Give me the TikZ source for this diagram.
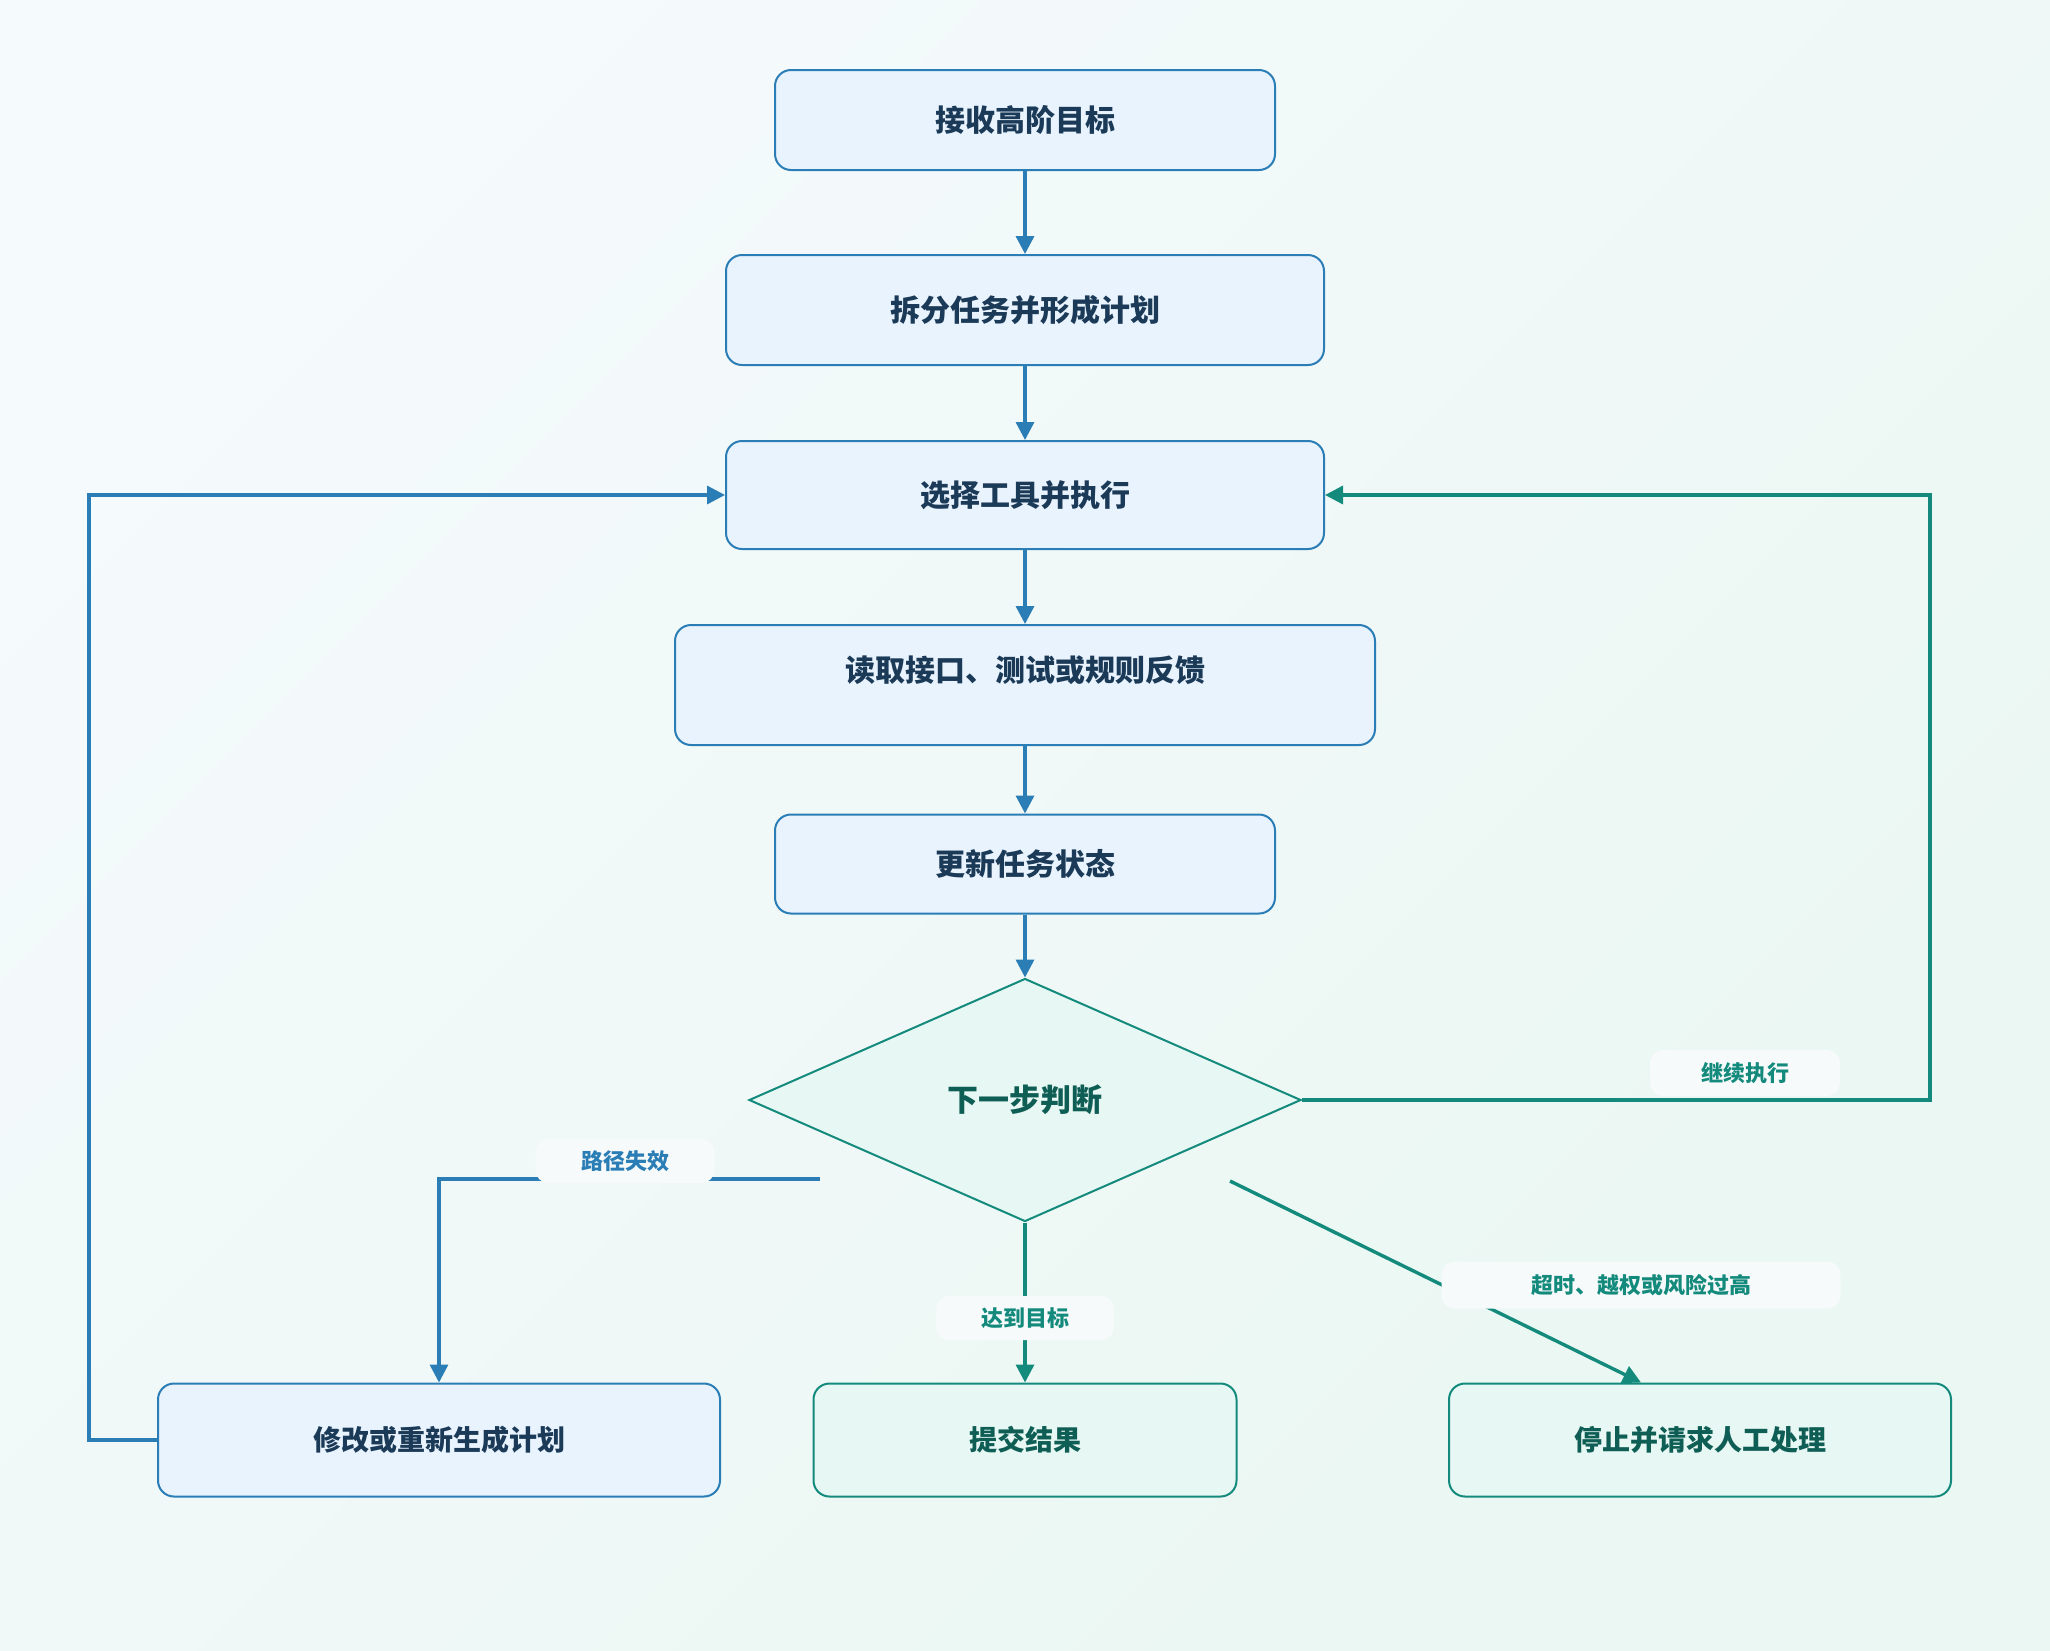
\documentclass[tikz,border=0pt]{standalone}
\usepackage{fontspec}
\newfontfamily\cjk{Noto Sans CJK SC}
\usetikzlibrary{arrows.meta,shapes.geometric}

\definecolor{flowblue}{HTML}{2A7DB5}
\definecolor{flowteal}{HTML}{138A7C}
\definecolor{bluefill}{HTML}{E8F3FE}
\definecolor{tealfill}{HTML}{E7F7F3}
\definecolor{navytext}{HTML}{1B3A57}
\definecolor{tealtext}{HTML}{0F5E55}
\definecolor{tagfill}{HTML}{F6FAFB}
\definecolor{bgtop}{HTML}{F5FAFC}
\definecolor{bgbottom}{HTML}{EAF7F2}

\tikzset{
  stepbox/.style={draw=flowblue, fill=bluefill, line width=1pt, rounded corners=8pt,
    inner sep=0pt, text=navytext, font=\cjk\bfseries\fontsize{15pt}{18pt}\selectfont},
  endbox/.style={draw=flowteal, fill=tealfill, line width=1pt, rounded corners=8pt,
    inner sep=0pt, text=tealtext, font=\cjk\bfseries\fontsize{14pt}{17pt}\selectfont},
  decision/.style={diamond, draw=flowteal, fill=tealfill, line width=1pt, inner sep=0pt,
    text=tealtext, font=\cjk\bfseries\fontsize{15.5pt}{18pt}\selectfont},
  tag/.style={fill=tagfill, rounded corners=6.5pt, inner sep=0pt,
    font=\cjk\bfseries\fontsize{11pt}{13pt}\selectfont},
  flow/.style={draw=flowblue, line width=1.7pt, -{Triangle[length=9pt,width=9pt]}},
  tealflow/.style={draw=flowteal, line width=1.7pt, -{Triangle[length=9pt,width=9pt]}},
}

\begin{document}
\begin{tikzpicture}[x=0.5pt, y=-0.5pt]
	% background
	\shade[top color=bgtop, bottom color=bgbottom, shading angle=45] (0,0) rectangle (2050,1650);
	\useasboundingbox (0,0) rectangle (2050,1650);

	% main chain
	\foreach \name / \ypos / \boxw / \boxh / \lift / \txt in {%
		goal/120/500/100/0/接收高阶目标,
		plan/310/598/110/0/拆分任务并形成计划,
		act/495/598/108/0/选择工具并执行,
		read/685/700/120/16/读取接口、测试或规则反馈,
		update/864/500/99/0/更新任务状态%
	}{
		\node[stepbox, minimum width=\boxw*0.5pt, minimum height=\boxh*0.5pt]
			(\name) at (1025,\ypos) {\raisebox{\lift pt}{\txt}};
	}

	\node[decision, minimum width=276pt, minimum height=121.5pt] (judge) at (1025,1100) {下一步判断};

	% outcomes
	\node[stepbox, font=\cjk\bfseries\fontsize{14pt}{17pt}\selectfont,
		minimum width=281pt, minimum height=56.5pt] (revise) at (439,1440) {修改或重新生成计划};
	\node[endbox, minimum width=211.5pt, minimum height=56.5pt] (submit) at (1025,1440) {提交结果};
	\node[endbox, minimum width=251pt, minimum height=56.5pt] (stop) at (1700,1440) {停止并请求人工处理};

	\foreach \from / \to in {goal/plan, plan/act, act/read, read/update, update/judge}{
		\draw[flow] (\from.south) -- (\to.north);
	}

	% loops and branches
	\coordinate (leftrail) at (89,495);
	\coordinate (rightrail) at (1930,495);
	\coordinate (failstart) at (820,1179);
	\coordinate (haltstart) at (1230,1181);

	\draw[flow] (revise.west) -| (leftrail) -- (act.west);
	\draw[tealflow] (judge.east) -| (rightrail) -- (act.east);
	\draw[flow] (failstart) -| (revise.north);
	\draw[tealflow] (judge.south) -- (submit.north);
	\draw[tealflow] (haltstart) -- ([xshift=-29.5pt]stop.north);

	% edge labels
	\node[tag, text=flowblue, minimum width=89.5pt, minimum height=22pt] (failtag) at (625,1161) {路径失效};
	\node[tag, text=flowteal, minimum width=95pt, minimum height=23pt] (contag) at (1745,1073) {继续执行};
	\node[tag, text=flowteal, minimum width=89pt, minimum height=22pt] (goaltag) at (1025,1318) {达到目标};
	\node[tag, text=flowteal, minimum width=199.5pt, minimum height=23.5pt] (halttag) at (1641,1285) {超时、越权或风险过高};

\end{tikzpicture}
\end{document}
